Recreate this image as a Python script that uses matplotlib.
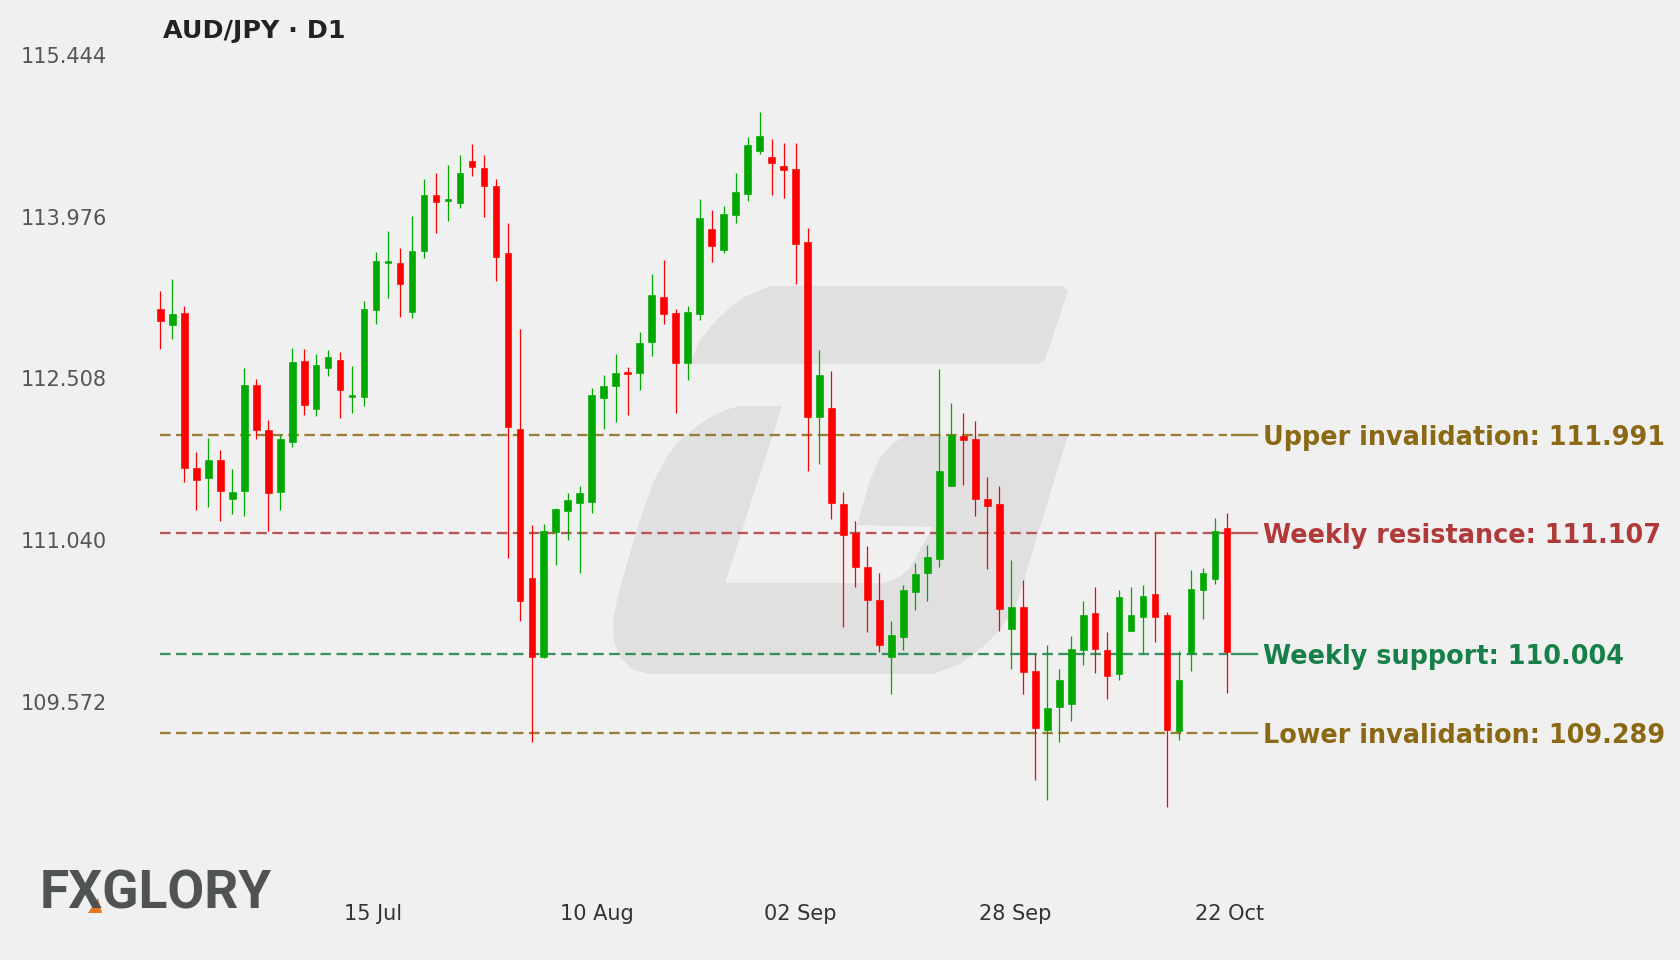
import matplotlib.pyplot as plt
from matplotlib.patches import Polygon

# daily AUD/JPY candles
opens = [113.141, 112.995, 113.103, 111.699, 111.608, 111.770, 111.412, 111.483, 112.445, 112.037,
         111.474, 111.929, 112.670, 112.233, 112.599, 112.679, 112.341, 112.341, 113.133, 113.558,
         113.558, 113.116, 113.662, 114.170, 114.120, 114.099, 114.483, 114.420, 114.253, 113.645,
         112.053, 110.699, 109.983, 111.112, 111.303, 111.374, 111.383, 112.333, 112.441, 112.562,
         112.558, 112.837, 113.249, 113.103, 112.645, 113.095, 113.866, 113.674, 113.995, 114.183,
         114.570, 114.520, 114.441, 114.408, 113.745, 112.162, 112.241, 111.370, 111.104, 110.799,
         110.495, 109.983, 110.162, 110.570, 110.745, 110.866, 111.529, 111.987, 111.954, 111.416,
         111.370, 110.229, 110.437, 109.849, 109.316, 109.524, 109.553, 110.041, 110.378, 110.041,
         109.828, 110.212, 110.345, 110.549, 110.362, 109.308, 110.016, 110.587, 110.687, 111.153]
highs = [113.303, 113.412, 113.162, 111.841, 111.970, 111.858, 111.683, 112.604, 112.504, 112.133,
         111.995, 112.787, 112.779, 112.729, 112.770, 112.745, 112.624, 113.208, 113.658, 113.849,
         113.691, 113.983, 114.320, 114.370, 114.449, 114.537, 114.637, 114.537, 114.320, 113.924,
         112.953, 111.174, 111.191, 111.329, 111.466, 111.533, 112.424, 112.541, 112.733, 112.616,
         112.928, 113.458, 113.587, 113.141, 113.162, 114.137, 114.037, 114.078, 114.370, 114.703,
         114.928, 114.687, 114.645, 114.645, 113.874, 112.766, 112.578, 111.479, 111.212, 110.991,
         110.745, 110.308, 110.633, 110.829, 110.995, 112.591, 112.287, 112.191, 112.120, 111.616,
         111.529, 110.862, 110.674, 110.016, 110.087, 109.870, 110.170, 110.483, 110.616, 110.203,
         110.587, 110.612, 110.637, 111.108, 110.387, 110.037, 110.770, 110.787, 111.241, 111.287]
lows = [112.774, 112.870, 111.566, 111.316, 111.345, 111.216, 111.279, 111.258, 111.958, 111.124,
        111.316, 111.887, 112.178, 112.170, 112.529, 112.149, 112.199, 112.254, 112.999, 113.241,
        113.070, 113.058, 113.603, 113.833, 113.937, 114.053, 114.349, 113.978, 113.391, 110.874,
        110.308, 109.203, 109.966, 110.816, 111.045, 110.745, 111.287, 112.045, 112.112, 112.178,
        112.399, 112.716, 112.999, 112.191, 112.495, 113.037, 113.570, 113.645, 113.920, 114.124,
        114.545, 114.174, 114.145, 113.362, 111.666, 111.729, 111.229, 110.249, 110.612, 110.203,
        110.024, 109.641, 110.045, 110.404, 110.483, 110.795, 111.529, 111.541, 111.258, 110.774,
        110.212, 109.870, 109.645, 108.866, 108.678, 109.203, 109.399, 109.903, 109.837, 109.599,
        109.766, 110.212, 110.003, 110.112, 108.616, 109.228, 109.849, 110.328, 110.641, 109.649]
closes = [113.033, 113.091, 111.695, 111.583, 111.770, 111.483, 111.479, 112.449, 112.037, 111.470,
          111.958, 112.662, 112.270, 112.633, 112.699, 112.404, 112.350, 113.141, 113.574, 113.570,
          113.362, 113.670, 114.178, 114.112, 114.129, 114.370, 114.433, 114.253, 113.612, 112.066,
          110.487, 109.983, 111.120, 111.320, 111.408, 111.470, 112.358, 112.437, 112.558, 112.549,
          112.828, 113.262, 113.095, 112.653, 113.112, 113.966, 113.712, 114.003, 114.203, 114.628,
          114.712, 114.462, 114.403, 113.733, 112.154, 112.537, 111.374, 111.083, 110.795, 110.495,
          110.091, 110.183, 110.587, 110.729, 110.887, 111.670, 111.991, 111.949, 111.412, 111.353,
          110.416, 110.437, 109.841, 109.333, 109.520, 109.766, 110.054, 110.362, 110.049, 109.808,
          110.520, 110.362, 110.533, 110.345, 109.312, 109.774, 110.595, 110.741, 111.120, 110.028]

y_ticks = [109.572, 111.040, 112.508, 113.976, 115.444]
y_bottom = 108.104
date_labels = ["15 Jul", "10 Aug", "02 Sep", "28 Sep", "22 Oct"]
date_pos = [17.75, 36.44, 53.37, 71.36, 89.25]

level_names = ["Upper invalidation", "Weekly resistance", "Weekly support", "Lower invalidation"]
level_values = [111.991, 111.107, 110.004, 109.289]
level_colors = ["#8b6914", "#b03a3a", "#17804a", "#8b6914"]

BG = "#f0f0f0"
UP = "#00a800"
DOWN = "#ff0000"

fig = plt.figure(figsize=(11.2, 6.4), dpi=150)
fig.set_facecolor(BG)


def px(points):
    # figure pixel coords (y down) -> figure fraction
    return [(x / 1680, 1 - y / 960) for x, y in points]


# faint logo watermark behind the candles
top_bar = [(770, 286), (1062, 286), (1068, 291), (1045, 360), (1038, 364), (690, 364),
           (700, 340), (718, 318), (742, 298)]
lower_g = [(1068, 435), (1017, 603), (1000, 630), (983, 647), (960, 664), (933, 674),
           (648, 674), (632, 669), (621, 658), (614, 642), (613, 622), (618, 596), (628, 560),
           (640, 520), (653, 483), (665, 460), (677, 443), (695, 428), (710, 417), (725, 410),
           (740, 406), (782, 406), (725, 583), (883, 583), (898, 578), (910, 568), (933, 527),
           (857, 525), (870, 480), (880, 458), (893, 443), (907, 436)]
for shape in (top_bar, lower_g):
    fig.add_artist(Polygon(px(shape), closed=True, transform=fig.transFigure,
                           facecolor="#e0e0e0", edgecolor="none", zorder=-1))

ax = fig.add_axes([0.0883, 0.1006, 0.9117, 0.8419])
ax.set_facecolor("none")

n = len(opens)
idx = list(range(n))
for i in idx:
    o, h, l, c = opens[i], highs[i], lows[i], closes[i]
    col = UP if c >= o else DOWN
    ax.vlines(i, l, h, color=col, linewidth=0.6, zorder=2)
    body = max(abs(c - o), 0.015)
    ax.bar(i, body, bottom=min(o, c), width=0.56, color=col, edgecolor=col,
           linewidth=0.3, zorder=3)

# key levels with labels on the right
for name, val, col in zip(level_names, level_values, level_colors):
    ax.hlines(val, 0, n - 1, colors=col, linestyles=(0, (4.6, 2.4)), linewidth=1.1,
              alpha=0.85, zorder=1)
    ax.plot([n - 0.6, n + 1.5], [val, val], color=col, linewidth=1.1, alpha=0.85, zorder=1)
    ax.text(n + 2.0, val, f"{name}: {val:.3f}", color=col, fontsize=12.25,
            fontweight="bold", va="center_baseline", ha="left")

ax.set_xlim(-1, 126.8)
ax.set_ylim(y_bottom, y_ticks[-1])
ax.set_yticks(y_ticks)
ax.set_yticklabels([f"{v:.3f}" for v in y_ticks])
ax.set_xticks(date_pos)
ax.set_xticklabels(date_labels)
ax.tick_params(axis="y", length=0, pad=19.8, labelsize=10, labelcolor="#555555")
ax.tick_params(axis="x", length=0, pad=19.5, labelsize=10, labelcolor="#333333")
for s in ax.spines.values():
    s.set_visible(False)

fig.text(163 / 1680, 1 - 31 / 960, "AUD/JPY · D1", fontsize=12.2, fontweight="bold",
         color="#222222", ha="left", va="center")

# FXGLORY logo, bottom left
fig.text(40 / 1680, 1 - 894 / 960, "FXGLORY", family="Roboto", fontweight="bold",
         fontsize=25.6, color="#505353", ha="left", va="center")
fig.add_artist(Polygon(px([(88, 913), (102, 913), (98, 898)]), closed=True,
                       transform=fig.transFigure, facecolor="#e87722", edgecolor="none"))

fig.savefig("out.png", dpi=150, facecolor=BG)
